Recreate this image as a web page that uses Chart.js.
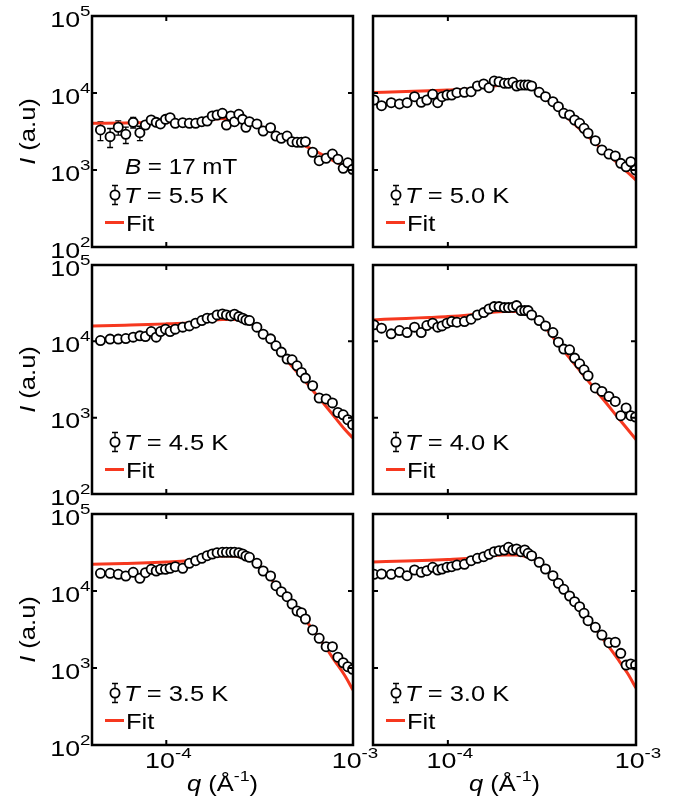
<!DOCTYPE html>
<html>
<head>
<meta charset="utf-8">
<script src="https://cdn.jsdelivr.net/npm/chart.js@4.4.1/dist/chart.umd.min.js"></script>
<style>
  html, body { margin: 0; padding: 0; background: #fff; }
  #wrap { position: relative; width: 678px; height: 810px; }
  #wrap canvas { position: absolute; left: 0; top: 0; }
</style>
</head>
<body>
<div id="wrap"></div>
<script>
// q values in units of 1e-4 Å^-1 (same q grid for every temperature)
const Q_UNIT = 1e-4;
const qValues = [0.405, 0.444, 0.50, 0.553, 0.607, 0.665, 0.722, 0.773, 0.830, 0.883, 0.931, 0.990,
  1.048, 1.117, 1.225, 1.329, 1.436, 1.55, 1.655, 1.763, 1.871, 1.997, 2.10, 2.217, 2.319, 2.446,
  2.563, 2.67, 2.788, 3.057, 3.303, 3.618, 3.868, 4.131, 4.436, 4.717, 5.015, 5.294, 5.562, 6.08,
  6.59, 7.18, 7.76, 8.30, 8.86, 9.38, 9.95];

// measured intensity I (a.u.) per temperature
const I_55 = [null, 3310, 2710, 3590, 2910, 4160, 3050, 3840, 4460, 4160, 3960, 4550, 4780, 4040, 4110,
  4040, 4040, 4240, 4330, 5030, 5180, 5450, 3840, 5030, 4240, 5290, 4550, 3590, 4240, 3960, 3210, 3540,
  2760, 2580, 2760, 2330, 2290, 2290, 2330, 1700, 1320, 1420, 1610, 1380, 1050, 1240, 1020];
const err_55 = [null, 900, 750, 750, 700, 650, 650, 450, 400, 350, 350, 300, 300, 250, 250, 250, 250,
  250, 250, 250, 250, 250, 250, 250, 250, 250, 250, 250, 250, 250, 200, 200, 200, 200, 200, 200, 200,
  200, 200, 120, 120, 120, 120, 120, 120, 120, 120];
const I_50 = [8110, 6840, 7480, 7200, 7480, 8950, 7570, 8110, 9620, 7480, 8950, 9420, 9420, 10090, 10210,
  10400, 12330, 13090, 11720, 14310, 14020, 13370, 13370, 13770, 12330, 12700, 12700, 12700, 12330, 10210,
  8950, 7710, 6640, 5450, 5180, 4460, 4040, 3480, 3000, 2400, 1820, 1610, 1520, 1220, 1100, 1280, 1000];
const I_45 = [null, 10250, 10690, 10690, 10880, 11350, 11800, 11550, 13430, 11350, 13430, 14440, 13430,
  14440, 15330, 15940, 17290, 18710, 20100, 20100, 22210, 22880, 22210, 21540, 22680, 21100, 20100, 19100,
  18710, 15330, 12420, 10780, 8740, 7230, 5850, 5730, 4780, 3910, 3300, 2620, 1810, 1760, 1560, 1170,
  1090, 940, 810];
const I_40 = [16430, 14880, 12530, 13840, 13030, 15330, 13030, 16090, 17290, 15330, 15940, 17290, 18150,
  17820, 18150, 19510, 22210, 23800, 26590, 28500, 28500, 27650, 27650, 28000, 29380, 25270, 25270, 25270,
  22210, 18710, 15940, 13030, 9760, 7910, 7750, 6030, 5080, 4240, 3540, 2450, 2210, 1900, 1630, 1060,
  1340, 1060, 1020];
const I_35 = [null, 16980, 16980, 16480, 15660, 17500, 14620, 17290, 19130, 18180, 19130, 19130, 19720,
  20680, 19720, 22890, 24750, 26580, 28730, 30240, 31440, 31810, 31810, 31810, 31810, 31440, 30240, 28480,
  27400, 22890, 18180, 15660, 11720, 9790, 8430, 6780, 5500, 5230, 4330, 3120, 2430, 1890, 1890, 1380,
  1170, 1040, 960];
const I_30 = [16480, 16630, 16480, 17500, 15800, 18740, 17500, 18350, 20320, 18740, 19310, 20320, 20680,
  21760, 22230, 24750, 26580, 27900, 29970, 32380, 33370, 34070, 36940, 34070, 35120, 32380, 34070, 30870,
  28730, 23590, 19310, 15800, 12590, 10520, 8610, 7260, 6250, 5130, 4110, 3380, 2680, 2130, 2160, 1550,
  1090, 1130, 1090];

// fit curves (same units)
const fitQ = [0.4, 0.6, 0.8, 1.0, 1.3, 1.6, 2.0, 2.3, 2.6, 3.0, 4.0, 5.0, 6.0, 7.0, 8.0, 9.0, 10.0];
const fit_55 = [4040, 4080, 4140, 4200, 4330, 4460, 4670, 4670, 4460, 3960, 2850, 2280, 1870, 1540, 1290, 1110, 960];
const fit_50 = [10150, 10460, 10710, 10940, 11270, 11970, 12700, 12700, 12510, 10300, 5630, 3440, 2300, 1630, 1220, 935, 740];
const fit_45 = [15940, 16290, 16580, 16940, 17450, 18260, 19390, 19390, 18540, 15940, 7340, 3980, 2380, 1510, 1010, 710, 540];
const fit_40 = [19100, 19980, 20590, 21100, 22210, 23580, 24670, 24670, 23580, 19390, 8250, 4200, 2420, 1520, 1010, 710, 516];
const fit_35 = [22230, 22760, 23240, 23800, 24670, 26430, 28480, 28480, 26830, 23800, 10940, 5840, 3310, 1990, 1230, 810, 518];
const fit_30 = [23800, 24520, 25040, 25650, 26580, 28060, 29340, 29340, 28060, 24160, 11270, 5840, 3410, 2050, 1310, 860, 550];

const tempLabels = ['5.5', '5.0', '4.5', '4.0', '3.5', '3.0'];
const fieldLabel = '17';

// axes
const xMin = 4e-5, xMax = 1e-3, yMin = 1e2, yMax = 1e5;
const xTickValues = [1e-4, 1e-3];
const xTickExp = ['-4', '-3'];
const yTickValues = [1e2, 1e3, 1e4, 1e5];
const yTickExp = ['2', '3', '4', '5'];

// layout of the 3x2 grid (pixels)
const W = 678, H = 810;
const colLeft = [92, 373], colRight = [353, 636];
const rowTop = [16, 265, 514], rowBottom = [247, 494, 745];

const FONT = "'Liberation Sans', Arial, sans-serif";
const SX = 1.16; // text in the figure is a bit wider than Arial
const TICK_SX = 1.22;
const RED = '#f6381f';

const panels = [
  { I: I_55, fit: fit_55, err: err_55, T: tempLabels[0], row: 0, col: 0, B: fieldLabel },
  { I: I_50, fit: fit_50, T: tempLabels[1], row: 0, col: 1 },
  { I: I_45, fit: fit_45, T: tempLabels[2], row: 1, col: 0 },
  { I: I_40, fit: fit_40, T: tempLabels[3], row: 1, col: 1 },
  { I: I_35, fit: fit_35, T: tempLabels[4], row: 2, col: 0 },
  { I: I_30, fit: fit_30, T: tempLabels[5], row: 2, col: 1 }
];

// ---------- text helpers ----------
function segFont(s, size) {
  const fs = s.sup ? size * 0.7 : size;
  return (s.it ? 'italic ' : '') + fs + 'px ' + FONT;
}
function richWidth(ctx, segs, size, sx) {
  let w = 0;
  for (const s of segs) { ctx.font = segFont(s, size); w += ctx.measureText(s.t).width; }
  return w * (sx || SX);
}
function drawRich(ctx, segs, x, y, size, angle, sx) {
  ctx.save();
  ctx.translate(x, y);
  if (angle) ctx.rotate(angle);
  ctx.scale(sx || SX, 1);
  ctx.fillStyle = '#000';
  ctx.textBaseline = 'alphabetic';
  ctx.textAlign = 'left';
  let cx = 0;
  for (const s of segs) {
    ctx.font = segFont(s, size);
    ctx.fillText(s.t, cx, s.sup ? -size * 0.47 : 0);
    cx += ctx.measureText(s.t).width;
  }
  ctx.restore();
}

// ---------- plugin: frame, ticks, labels, legend, error bars ----------
function makeFramePlugin(p) {
  return {
    id: 'frame',
    beforeDatasetsDraw(chart) {
      if (!p.err) return;
      const { ctx, chartArea: a, scales: { x, y } } = chart;
      ctx.save();
      ctx.beginPath();
      ctx.rect(a.left, a.top, a.right - a.left, a.bottom - a.top);
      ctx.clip();
      ctx.strokeStyle = '#000';
      ctx.lineWidth = 1.3;
      p.I.forEach((v, i) => {
        if (v == null || !p.err[i]) return;
        const px = x.getPixelForValue(qValues[i] * Q_UNIT);
        const y1 = y.getPixelForValue(v + p.err[i]);
        const y2 = y.getPixelForValue(v - p.err[i]);
        ctx.beginPath();
        ctx.moveTo(px, y1); ctx.lineTo(px, y2);
        ctx.moveTo(px - 3, y1); ctx.lineTo(px + 3, y1);
        ctx.moveTo(px - 3, y2); ctx.lineTo(px + 3, y2);
        ctx.stroke();
      });
      ctx.restore();
    },
    afterDraw(chart) {
      const { ctx, chartArea: a, scales: { x, y } } = chart;
      ctx.save();
      ctx.strokeStyle = '#000';
      ctx.lineWidth = 2.5;
      ctx.strokeRect(a.left, a.top, a.right - a.left, a.bottom - a.top);
      // inward ticks
      const tl = 5;
      ctx.lineWidth = 2;
      ctx.beginPath();
      yTickValues.forEach(v => {
        if (v <= yMin || v >= yMax) return;
        const py = y.getPixelForValue(v);
        ctx.moveTo(a.left, py); ctx.lineTo(a.left + tl, py);
        ctx.moveTo(a.right, py); ctx.lineTo(a.right - tl, py);
      });
      xTickValues.forEach(v => {
        if (v <= xMin || v >= xMax) return;
        const px = x.getPixelForValue(v);
        ctx.moveTo(px, a.top); ctx.lineTo(px, a.top + tl);
        ctx.moveTo(px, a.bottom); ctx.lineTo(px, a.bottom - tl);
      });
      ctx.stroke();

      // tick labels
      if (p.col === 0) {
        yTickValues.forEach((v, i) => {
          const segs = [{ t: '10' }, { t: yTickExp[i], sup: true }];
          const w = richWidth(ctx, segs, 22, TICK_SX);
          drawRich(ctx, segs, a.left - 1.5 - w, y.getPixelForValue(v) + 10.5, 22, 0, TICK_SX);
        });
        const title = [{ t: 'I', it: true }, { t: ' (a.u)' }];
        const tw = richWidth(ctx, title, 22);
        drawRich(ctx, title, 35, (a.top + a.bottom) / 2 + tw / 2, 22, -Math.PI / 2);
      }
      if (p.row === 2) {
        xTickValues.forEach((v, i) => {
          const segs = [{ t: '10' }, { t: xTickExp[i], sup: true }];
          const w = richWidth(ctx, segs, 22, TICK_SX);
          drawRich(ctx, segs, x.getPixelForValue(v) - w / 2 + 2, a.bottom + 23, 22, 0, TICK_SX);
        });
        const title = [{ t: 'q', it: true }, { t: ' (Å' }, { t: '-1', sup: true }, { t: ')' }];
        const tw = richWidth(ctx, title, 22);
        drawRich(ctx, title, (a.left + a.right) / 2 - tw / 2, 791, 22);
      }

      // legend
      const mx = a.left + 23, my = a.bottom - 52;
      ctx.lineWidth = 1.3;
      ctx.beginPath();
      ctx.moveTo(mx, my - 9.5); ctx.lineTo(mx, my + 9.5);
      ctx.moveTo(mx - 3, my - 9.5); ctx.lineTo(mx + 3, my - 9.5);
      ctx.moveTo(mx - 3, my + 9.5); ctx.lineTo(mx + 3, my + 9.5);
      ctx.stroke();
      ctx.beginPath();
      ctx.arc(mx, my, 4.6, 0, Math.PI * 2);
      ctx.fillStyle = '#fff';
      ctx.fill();
      ctx.lineWidth = 1.8;
      ctx.stroke();
      drawRich(ctx, [{ t: 'T', it: true }, { t: ' = ' + p.T + ' K' }], a.left + 32, a.bottom - 44.5, 22);

      ctx.strokeStyle = RED;
      ctx.lineWidth = 3;
      ctx.beginPath();
      ctx.moveTo(a.left + 13, a.bottom - 24.5);
      ctx.lineTo(a.left + 32, a.bottom - 24.5);
      ctx.stroke();
      drawRich(ctx, [{ t: 'Fit' }], a.left + 34, a.bottom - 16, 22);

      if (p.B) {
        drawRich(ctx, [{ t: 'B', it: true }, { t: ' = ' + p.B + ' mT' }], a.left + 33, a.bottom - 73, 22, 0, 1.1);
      }
      ctx.restore();
    }
  };
}

// ---------- build the six charts ----------
const wrap = document.getElementById('wrap');

panels.forEach(p => {
  const canvas = document.createElement('canvas');
  canvas.width = W;
  canvas.height = H;
  wrap.appendChild(canvas);

  const pts = [];
  p.I.forEach((v, i) => { if (v != null) pts.push({ x: qValues[i] * Q_UNIT, y: v }); });
  const fitPts = fitQ.map((q, i) => ({ x: q * Q_UNIT, y: p.fit[i] }));

  new Chart(canvas.getContext('2d'), {
    type: 'scatter',
    data: {
      datasets: [
        {
          type: 'scatter',
          data: pts,
          order: 0,
          pointRadius: 4.6,
          pointHoverRadius: 4.6,
          pointBorderWidth: 1.8,
          borderColor: '#000',
          backgroundColor: '#fff',
          clip: 0
        },
        {
          type: 'line',
          data: fitPts,
          order: 1,
          borderColor: RED,
          borderWidth: 3,
          pointRadius: 0,
          fill: false,
          cubicInterpolationMode: 'monotone',
          clip: 0
        }
      ]
    },
    options: {
      responsive: false,
      animation: false,
      events: [],
      layout: {
        padding: {
          left: colLeft[p.col],
          right: W - colRight[p.col],
          top: rowTop[p.row],
          bottom: H - rowBottom[p.row]
        }
      },
      plugins: { legend: { display: false }, tooltip: { enabled: false } },
      scales: {
        x: { type: 'logarithmic', min: xMin, max: xMax, display: false },
        y: { type: 'logarithmic', min: yMin, max: yMax, display: false }
      }
    },
    plugins: [makeFramePlugin(p)]
  });
});
</script>
</body>
</html>
